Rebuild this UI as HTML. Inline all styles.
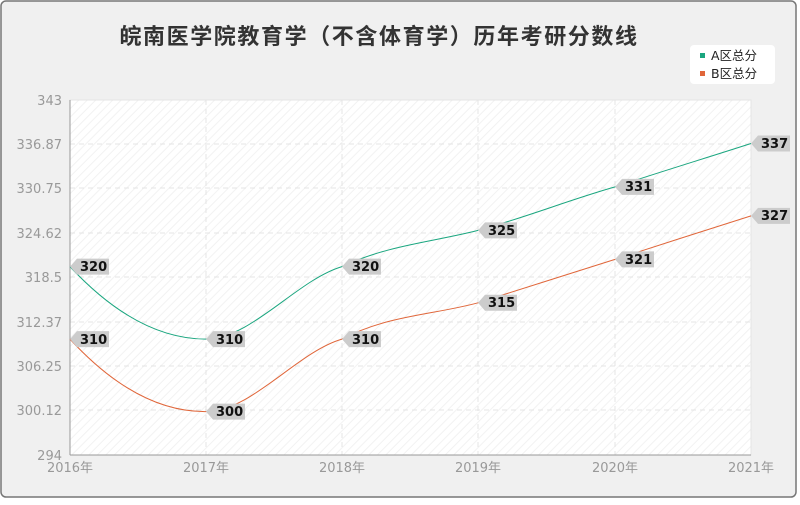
<!DOCTYPE html><html><head><meta charset="utf-8"><style>
body{margin:0;width:800px;height:500px;overflow:hidden;background:#fff}
</style></head><body>
<svg width="800" height="500" xmlns="http://www.w3.org/2000/svg" font-family="DejaVu Sans, Noto Sans CJK SC, sans-serif">
<defs><pattern id="h" width="6" height="6" patternUnits="userSpaceOnUse" patternTransform="rotate(45)"><rect width="6" height="6" fill="#fff"/><line x1="0" y1="0" x2="0" y2="6" stroke="#f2f2f2" stroke-width="2"/></pattern></defs>
<rect x="1" y="1" width="795" height="496" rx="5" fill="#f0f0f0" stroke="#777" stroke-width="1.5"/>
<text x="379" y="44" text-anchor="middle" font-size="22" letter-spacing="1.6" font-weight="bold" fill="#333">皖南医学院教育学（不含体育学）历年考研分数线</text>
<rect x="690" y="45" width="85" height="39" rx="4" fill="#fff"/>
<rect x="700" y="53" width="5" height="5" fill="#1aa67f"/><text x="711" y="60" font-size="12.5" fill="#222">A区总分</text>
<rect x="700" y="71" width="5" height="5" fill="#e0663a"/><text x="711" y="78" font-size="12.5" fill="#222">B区总分</text>
<rect x="70" y="100" width="681" height="355" fill="url(#h)" stroke="#e4e4e4"/>
<g stroke="#e4e4e4" stroke-dasharray="5,4">
<line x1="70" y1="144" x2="751" y2="144"/><line x1="70" y1="188" x2="751" y2="188"/><line x1="70" y1="233" x2="751" y2="233"/><line x1="70" y1="277" x2="751" y2="277"/><line x1="70" y1="322" x2="751" y2="322"/><line x1="70" y1="366" x2="751" y2="366"/><line x1="70" y1="410" x2="751" y2="410"/>
<line x1="206" y1="100" x2="206" y2="455"/><line x1="342" y1="100" x2="342" y2="455"/><line x1="478" y1="100" x2="478" y2="455"/><line x1="615" y1="100" x2="615" y2="455"/>
</g>
<line x1="70" y1="100" x2="70" y2="455" stroke="#999"/><line x1="70" y1="455" x2="751" y2="455" stroke="#999"/>
<g font-size="13" fill="#999" text-anchor="end">
<text x="62" y="105">343</text><text x="62" y="149">336.87</text><text x="62" y="193">330.75</text><text x="62" y="238">324.62</text><text x="62" y="282">318.5</text><text x="62" y="327">312.37</text><text x="62" y="371">306.25</text><text x="62" y="415">300.12</text><text x="62" y="460">294</text>
</g>
<g font-size="13" fill="#999" text-anchor="middle">
<text x="70" y="472">2016年</text><text x="206" y="472">2017年</text><text x="342" y="472">2018年</text><text x="478" y="472">2019年</text><text x="615" y="472">2020年</text><text x="751" y="472">2021年</text>
</g>
<path d="M70,266.6 C115,315 160,339 206,339.1 C251,339 297,280 342,266.6 C388,245 433,242 478,230.4 C524,218 569,200 615,186.9 C660,172 706,158 751,143.5" fill="none" stroke="#1aa67f" stroke-width="1"/>
<path d="M70,339.1 C115,388 160,412 206,411.6 C251,412 297,352 342,339.1 C388,315 433,315 478,302.8 C524,288 569,274 615,259.4 C660,245 706,230 751,215.9" fill="none" stroke="#e0663a" stroke-width="1"/>
<g font-size="13" font-weight="bold" fill="#111">
<path d="M70,266.6 l7,-8 h32 v16 h-32 z" fill="#ccc"/><text x="80" y="271">320</text>
<path d="M206,339.1 l7,-8 h32 v16 h-32 z" fill="#ccc"/><text x="216" y="344">310</text>
<path d="M342,266.6 l7,-8 h32 v16 h-32 z" fill="#ccc"/><text x="352" y="271">320</text>
<path d="M478,230.4 l7,-8 h32 v16 h-32 z" fill="#ccc"/><text x="488" y="235">325</text>
<path d="M615,186.9 l7,-8 h32 v16 h-32 z" fill="#ccc"/><text x="625" y="191">331</text>
<path d="M751,143.5 l7,-8 h32 v16 h-32 z" fill="#ccc"/><text x="761" y="148">337</text>
<path d="M70,339.1 l7,-8 h32 v16 h-32 z" fill="#ccc"/><text x="80" y="344">310</text>
<path d="M206,411.6 l7,-8 h32 v16 h-32 z" fill="#ccc"/><text x="216" y="416">300</text>
<path d="M342,339.1 l7,-8 h32 v16 h-32 z" fill="#ccc"/><text x="352" y="344">310</text>
<path d="M478,302.8 l7,-8 h32 v16 h-32 z" fill="#ccc"/><text x="488" y="307">315</text>
<path d="M615,259.4 l7,-8 h32 v16 h-32 z" fill="#ccc"/><text x="625" y="264">321</text>
<path d="M751,215.9 l7,-8 h32 v16 h-32 z" fill="#ccc"/><text x="761" y="220">327</text>
</g>
</svg>
</body></html>
